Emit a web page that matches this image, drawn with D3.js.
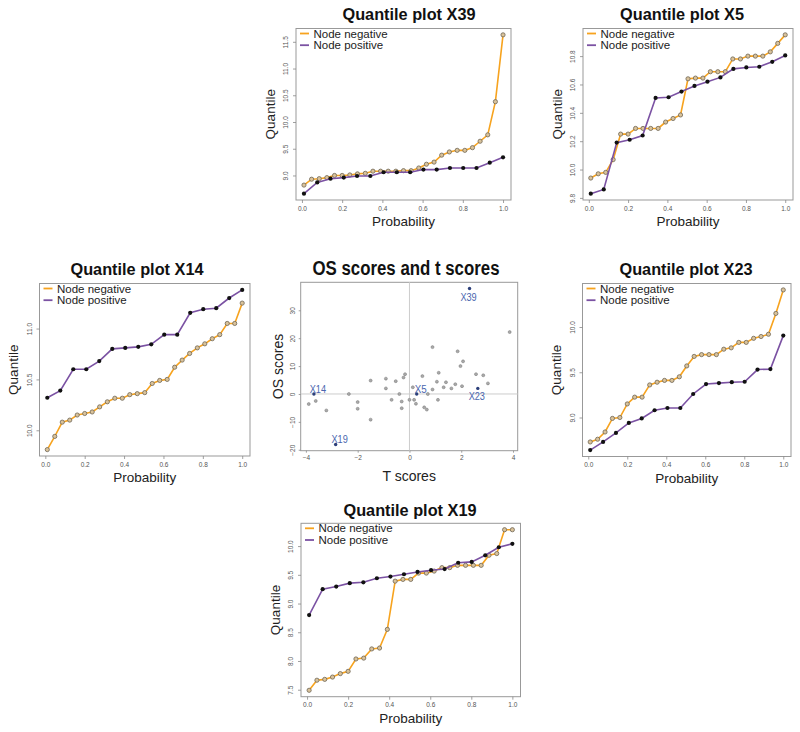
<!DOCTYPE html>
<html><head><meta charset="utf-8">
<script src="https://cdn.jsdelivr.net/npm/d3@7"></script>
<style>body{margin:0;background:#fff}text{font-family:"Liberation Sans",Arial,sans-serif}</style>
</head><body>
<svg id="chart" width="800" height="732"></svg>
<script>
// ---- data ----
const probPos = [0.01,0.076,0.142,0.208,0.274,0.34,0.406,0.472,0.538,0.604,0.67,0.736,0.802,0.868,0.934,1.0];
const probNeg = [0.01,0.048,0.086,0.124,0.162,0.2,0.238,0.276,0.315,0.353,0.391,0.429,0.467,0.505,0.543,0.581,0.619,0.657,0.695,0.733,0.772,0.81,0.848,0.886,0.924,0.962,1.0];

const x39Pos = [8.66,8.87,8.94,8.96,8.99,8.99,9.06,9.06,9.06,9.11,9.11,9.14,9.14,9.14,9.24,9.34];
const x39Neg = [8.82,8.93,8.94,8.96,9.0,9.0,9.01,9.03,9.04,9.08,9.08,9.08,9.08,9.09,9.09,9.14,9.21,9.25,9.38,9.44,9.47,9.47,9.52,9.64,9.76,10.38,11.63];

const x5Pos = [9.83,9.86,10.19,10.21,10.24,10.505,10.51,10.55,10.59,10.62,10.65,10.71,10.72,10.725,10.76,10.805];
const x5Neg = [9.94,9.97,9.98,10.07,10.25,10.25,10.29,10.29,10.29,10.29,10.335,10.36,10.385,10.64,10.645,10.645,10.69,10.69,10.69,10.78,10.78,10.8,10.8,10.8,10.83,10.89,10.95];

const x14Pos = [10.32,10.39,10.60,10.60,10.68,10.80,10.81,10.82,10.845,10.94,10.94,11.155,11.19,11.20,11.30,11.38];
const x14Neg = [9.81,9.94,10.08,10.10,10.15,10.165,10.18,10.23,10.28,10.315,10.315,10.35,10.36,10.37,10.46,10.49,10.50,10.62,10.69,10.755,10.81,10.85,10.90,10.94,11.05,11.05,11.25];

const x23Pos = [8.64,8.73,8.83,8.94,8.99,9.08,9.105,9.105,9.26,9.37,9.38,9.39,9.395,9.53,9.535,9.905];
const x23Neg = [8.73,8.76,8.84,8.99,9.0,9.15,9.225,9.225,9.36,9.39,9.41,9.41,9.45,9.57,9.675,9.695,9.695,9.695,9.755,9.77,9.83,9.83,9.875,9.895,9.92,10.15,10.41];

const x19Pos = [8.80,9.25,9.295,9.355,9.37,9.44,9.47,9.51,9.55,9.58,9.60,9.71,9.725,9.84,9.98,10.04];
const x19Neg = [7.49,7.665,7.68,7.72,7.78,7.82,8.035,8.05,8.21,8.225,8.55,9.39,9.42,9.42,9.53,9.53,9.565,9.625,9.625,9.665,9.665,9.665,9.665,9.84,9.87,10.285,10.285];

const probTicks = [0,0.2,0.4,0.6,0.8,1.0];
const x39Ticks = [9.0,9.5,10.0,10.5,11.0,11.5];
const x5Ticks = [9.8,10.0,10.2,10.4,10.6,10.8];
const x14Ticks = [10.0,10.5,11.0];
const x23Ticks = [9.0,9.5,10.0];
const x19Ticks = [7.5,8.0,8.5,9.0,9.5,10.0];

const tScores = [2.32,3.87,0.89,1.86,2.07,1.97,1.13,2.57,2.85,0.50,-0.17,-0.23,-0.91,-1.50,-0.53,1.06,1.41,1.77,3.03,2.03,1.32,-0.91,0.13,0.89,1.62,-0.39,0.71,-2.34,0.28,2.64,-3.69,-3.89,-3.62,-3.21,-2.00,-2.00,-1.50,-0.69,-0.30,-0.30,0.00,0.18,0.25,0.57,0.67,1.10,-2.85];
const osScores = [37.8,22.2,16.8,15.3,11.7,10.0,7.6,7.1,6.7,6.4,7.1,5.9,5.5,4.8,4.6,4.4,4.2,3.5,3.8,2.8,2.4,2.0,2.4,1.6,2.0,0,0,0,0,2.0,0,-3.6,-2.5,-5.9,-2.9,-5.3,-9.2,-2.1,-2.7,-5.1,-2.1,-2.1,-3.5,-4.8,-5.6,-2.1,-18.1];
const pointLabels = ["X39","","","","","","","","","","","","","","","","","","","","","","","","","","","","X5","X23","X14","","","","","","","","","","","","","","","","X19"];
const labelBelow = ["X39","X23"];
const tTicks = [-4,-2,0,2,4];
const osTicks = [-20,-10,0,10,20,30];
const legendNames = ["Node negative","Node positive"];

// ---- layout ----
const svg = d3.select("#chart");
const ORANGE = "#F7A31E", PURPLE = "#7B52A3";

const panels = [
  {name:"X39", neg:x39Neg, pos:x39Pos, ticks:x39Ticks, box:[296,28.5,511,200], tx:409, ty:19.5},
  {name:"X5",  neg:x5Neg,  pos:x5Pos,  ticks:x5Ticks,  box:[583,28.5,793,200], tx:682, ty:19.5},
  {name:"X14", neg:x14Neg, pos:x14Pos, ticks:x14Ticks, box:[39.5,283.5,250,456], tx:137, ty:275},
  {name:"X23", neg:x23Neg, pos:x23Pos, ticks:x23Ticks, box:[582.5,283.5,791,456.5], tx:686, ty:274.5},
  {name:"X19", neg:x19Neg, pos:x19Pos, ticks:x19Ticks, box:[301,523.3,520.5,696.7], tx:410, ty:516}
];

function styleAxis(g){
  g.select(".domain").remove();
  g.selectAll(".tick line").attr("stroke","#888").attr("stroke-width",0.8);
  g.selectAll(".tick text").attr("fill","#555").style("font-size","6.5px").style("font-family","Liberation Sans, Arial, sans-serif");
}

function padExtent(vals){
  const e = d3.extent(vals); const p = (e[1]-e[0])*0.04;
  return [e[0]-p, e[1]+p];
}

function quantilePanel(p){
  const [x0,y0,x1,y1] = p.box;
  const g = svg.append("g");
  const x = d3.scaleLinear().domain(padExtent(probNeg.concat(probPos))).range([x0,x1]);
  const y = d3.scaleLinear().domain(padExtent(p.neg.concat(p.pos))).range([y1,y0]);

  g.append("rect").attr("x",x0).attr("y",y0).attr("width",x1-x0).attr("height",y1-y0)
    .attr("fill","none").attr("stroke","#999").attr("stroke-width",1);

  const xa = g.append("g").attr("transform",`translate(0,${y1})`)
    .call(d3.axisBottom(x).tickValues(probTicks).tickSize(3).tickPadding(3).tickFormat(d3.format(".1f")));
  styleAxis(xa);
  const ya = g.append("g").attr("transform",`translate(${x0},0)`)
    .call(d3.axisLeft(y).tickValues(p.ticks).tickSize(3).tickFormat(d3.format(".1f")));
  styleAxis(ya);
  ya.selectAll(".tick text").attr("x",null).attr("dy",null).attr("text-anchor","middle")
    .attr("transform","translate(-8,0) rotate(-90)");

  const line = d3.line().x(d=>x(d[0])).y(d=>y(d[1]));
  const negData = probNeg.map((v,i)=>[v,p.neg[i]]);
  const posData = probPos.map((v,i)=>[v,p.pos[i]]);
  g.append("path").datum(negData).attr("d",line).attr("fill","none").attr("stroke",ORANGE).attr("stroke-width",1.6);
  g.selectAll(".n").data(negData).enter().append("circle").attr("cx",d=>x(d[0])).attr("cy",d=>y(d[1])).attr("r",2.1)
    .attr("fill","#d9c29a").attr("stroke","#6f6656").attr("stroke-width",0.8);
  g.append("path").datum(posData).attr("d",line).attr("fill","none").attr("stroke",PURPLE).attr("stroke-width",1.6);
  g.selectAll(".p").data(posData).enter().append("circle").attr("cx",d=>x(d[0])).attr("cy",d=>y(d[1])).attr("r",2.1)
    .attr("fill","#111");

  // legend
  [ORANGE,PURPLE].forEach((c,i)=>{
    const ly = y0 + 5 + i*11.7;
    g.append("line").attr("x1",x0+4).attr("x2",x0+13).attr("y1",ly).attr("y2",ly).attr("stroke",c).attr("stroke-width",1.8);
    g.append("text").attr("x",x0+17.5).attr("y",ly).attr("dy","0.35em").style("font-size","11.5px").attr("fill","#222").text(legendNames[i]);
  });

  g.append("text").attr("x",p.tx).attr("y",p.ty).attr("text-anchor","middle")
    .style("font-size","16.3px").style("font-weight","bold").attr("fill","#111").text("Quantile plot "+p.name);
  g.append("text").attr("x",(x0+x1)/2).attr("y",y1+21.5).attr("dy","0.35em").attr("text-anchor","middle")
    .style("font-size","13.5px").attr("fill","#222").text("Probability");
  g.append("text").attr("transform",`translate(${x0-26},${(y0+y1)/2}) rotate(-90)`).attr("dy","0.35em").attr("text-anchor","middle")
    .style("font-size","13.5px").attr("fill","#222").text("Quantile");
}
panels.forEach(quantilePanel);

// ---- scatter ----
(function(){
  const [x0,y0,x1,y1] = [300.7,282.3,517.7,450.7];
  const g = svg.append("g");
  const x = d3.scaleLinear().domain(padExtent(tScores)).range([x0,x1]);
  const y = d3.scaleLinear().domain(padExtent(osScores)).range([y1,y0]);
  g.append("rect").attr("x",x0).attr("y",y0).attr("width",x1-x0).attr("height",y1-y0)
    .attr("fill","none").attr("stroke","#999").attr("stroke-width",1);
  g.append("line").attr("x1",x(0)).attr("x2",x(0)).attr("y1",y0).attr("y2",y1).attr("stroke","#ccc").attr("stroke-width",1);
  g.append("line").attr("x1",x0).attr("x2",x1).attr("y1",y(0)).attr("y2",y(0)).attr("stroke","#ccc").attr("stroke-width",1);

  const xa = g.append("g").attr("transform",`translate(0,${y1})`)
    .call(d3.axisBottom(x).tickValues(tTicks).tickSize(2).tickPadding(3).tickFormat(d3.format("d")));
  styleAxis(xa);
  const ya = g.append("g").attr("transform",`translate(${x0},0)`)
    .call(d3.axisLeft(y).tickValues(osTicks).tickSize(2).tickFormat(d3.format("d")));
  styleAxis(ya);
  ya.selectAll(".tick text").attr("x",null).attr("dy",null).attr("text-anchor","middle")
    .attr("transform","translate(-6,0) rotate(-90)");

  const pts = tScores.map((t,i)=>({t, o:osScores[i], l:pointLabels[i]}));
  g.selectAll(".s").data(pts).enter().append("circle")
    .attr("cx",d=>x(d.t)).attr("cy",d=>y(d.o)).attr("r",d=>d.l?1.7:1.5)
    .attr("fill",d=>d.l?"#2c3f7a":"#aaa").attr("stroke",d=>d.l?"none":"#777").attr("stroke-width",0.5);
  g.selectAll(".lab").data(pts.filter(d=>d.l)).enter().append("text")
    .attr("x",d=>x(d.t)+ (labelBelow.includes(d.l)?-1:4))
    .attr("y",d=>y(d.o)+ (labelBelow.includes(d.l)?12:-1))
    .attr("text-anchor","middle").style("font-size","11px").attr("fill","#4A66AE")
    .attr("textLength",d=>d.l.length===2?12:16.3).attr("lengthAdjust","spacingAndGlyphs")
    .text(d=>d.l);

  g.append("text").attr("x",406).attr("y",275).attr("text-anchor","middle")
    .style("font-size","20px").style("font-weight","bold").attr("fill","#111")
    .attr("textLength",187).attr("lengthAdjust","spacingAndGlyphs").text("OS scores and t scores");
  g.append("text").attr("x",(x0+x1)/2).attr("y",476).attr("dy","0.35em").attr("text-anchor","middle")
    .style("font-size","14px").attr("fill","#222").text("T scores");
  g.append("text").attr("transform",`translate(278,${(y0+y1)/2}) rotate(-90)`).attr("dy","0.35em").attr("text-anchor","middle")
    .style("font-size","14px").attr("fill","#222").text("OS scores");
})();
</script>
</body></html>
